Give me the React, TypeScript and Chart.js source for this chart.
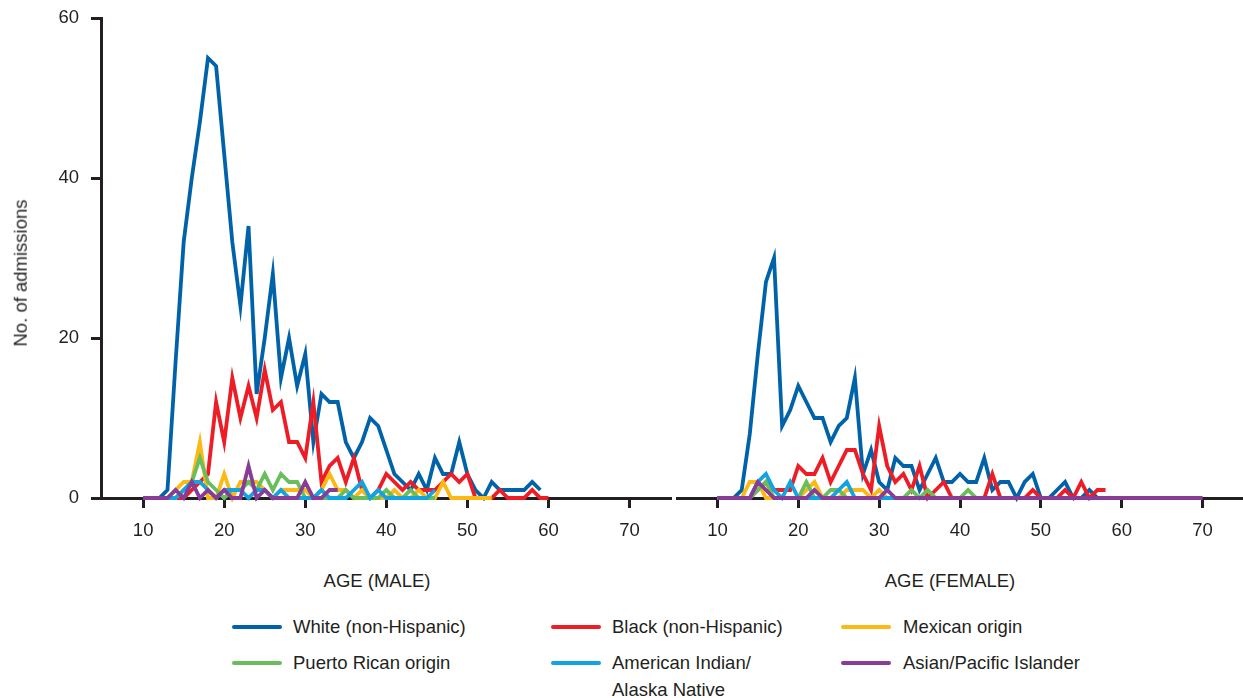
import React, { useEffect, useRef } from "react";
import { Chart, registerables } from "chart.js";

Chart.register(...registerables);

// ---------- data ----------
const START_AGE = 10;
const xTickValues = [10, 20, 30, 40, 50, 60, 70];
const yTickValues = [0, 20, 40, 60];

const seriesNames = [
  "White (non-Hispanic)",
  "Black (non-Hispanic)",
  "Mexican origin",
  "Puerto Rican origin",
  "American Indian/\nAlaska Native",
  "Asian/Pacific Islander",
];
const seriesColors = ["#0063a9", "#ee1d25", "#fdb913", "#6abd5b", "#12a3e0", "#873c95"];
const seriesOrder = [6, 5, 4, 3, 2, 1];

// Male admissions by age (from age 10, one value per year)
const maleWhite = [0, 0, 0, 1, 17, 32, 40, 47, 55, 54, 43, 32, 24, 34, 13, 20, 28, 15, 20, 14, 18, 7, 13, 12, 12, 7, 5, 7, 10, 9, 6, 3, 2, 1, 3, 1, 5, 3, 3, 7, 3, 1, 0, 2, 1, 1, 1, 1, 2, 1];
const maleBlack = [0, 0, 0, 0, 0, 0, 1, 2, 3, 12, 7, 15, 10, 14, 10, 16, 11, 12, 7, 7, 5, 12, 2, 4, 5, 2, 5, 1, 0, 1, 3, 2, 1, 2, 1, 1, 1, 2, 3, 2, 3, 0, 0, 0, 1, 0, 0, 0, 1, 0, 0];
const maleMexican = [0, 0, 0, 0, 1, 2, 2, 7, 0, 0, 3, 0, 2, 2, 2, 1, 0, 1, 1, 1, 1, 0, 1, 3, 1, 1, 0, 1, 0, 0, 0, 1, 0, 0, 1, 0, 0, 2, 0, 0, 0, 0, 0, 0];
const malePuertoRican = [0, 0, 0, 0, 0, 1, 2, 5, 2, 1, 0, 1, 1, 2, 1, 3, 1, 3, 2, 2, 0, 0, 0, 0, 0, 1, 0, 0, 0, 0, 1, 0, 0, 1, 0, 0, 0];
const maleAmIndian = [0, 0, 0, 0, 0, 1, 2, 2, 1, 0, 1, 1, 1, 0, 1, 1, 0, 1, 0, 0, 0, 0, 1, 0, 0, 0, 1, 2, 0, 1, 0, 0, 0, 0, 0, 0, 1];
const maleAsian = [0, 0, 0, 0, 1, 0, 2, 0, 1, 0, 1, 0, 0, 4, 0, 1, 0, 0, 0, 0, 2, 0, 0, 1, 1];

// Female admissions by age (from age 10, one value per year)
const femaleWhite = [0, 0, 0, 1, 8, 18, 27, 30, 9, 11, 14, 12, 10, 10, 7, 9, 10, 15, 3, 6, 2, 1, 5, 4, 4, 1, 3, 5, 2, 2, 3, 2, 2, 5, 1, 2, 2, 0, 2, 3, 0, 0, 1, 2, 0, 0, 1, 0];
const femaleBlack = [0, 0, 0, 0, 0, 1, 2, 1, 1, 1, 4, 3, 3, 5, 2, 4, 6, 6, 3, 1, 9, 4, 2, 3, 1, 4, 0, 1, 2, 0, 0, 0, 0, 0, 3, 0, 0, 0, 0, 1, 0, 0, 0, 1, 0, 2, 0, 1, 1];
const femaleMexican = [0, 0, 0, 0, 2, 2, 0, 0, 0, 0, 0, 1, 2, 0, 0, 0, 1, 1, 1, 0, 1, 0, 0, 0, 0, 0, 0, 0, 0, 0, 0, 0, 0, 0, 0, 0, 0, 0, 0, 0, 0];
const femalePuertoRican = [0, 0, 0, 0, 0, 1, 2, 0, 0, 0, 0, 2, 0, 0, 1, 1, 0, 0, 0, 0, 0, 0, 0, 0, 1, 0, 1, 0, 0, 0, 0, 1, 0, 0, 0, 0, 0, 0, 0, 0, 0];
const femaleAmIndian = [0, 0, 0, 0, 0, 2, 3, 1, 0, 2, 0, 0, 0, 0, 0, 1, 2, 0, 0, 0, 0, 0, 0, 0, 0, 0, 0, 0, 0, 0, 0, 0, 0, 0, 0, 0, 0, 0, 0, 0, 0];
const femaleAsian = [0, 0, 0, 0, 0, 2, 1, 0, 0, 0, 0, 0, 1, 0, 0, 0, 0, 0, 0, 0, 0, 1, 0, 0, 0, 0, 0, 0, 0, 0, 0, 0, 0, 0, 0, 0, 0, 0, 0, 0, 0, 0, 0, 0, 0, 0, 0, 0, 0, 0, 0, 0, 0, 0, 0, 0, 0, 0, 0, 0, 0];

const maleSeries = [maleWhite, maleBlack, maleMexican, malePuertoRican, maleAmIndian, maleAsian];
const femaleSeries = [femaleWhite, femaleBlack, femaleMexican, femalePuertoRican, femaleAmIndian, femaleAsian];

const maleTitle = "AGE (MALE)";
const femaleTitle = "AGE (FEMALE)";
const yTitle = "No. of admissions";

// ---------- styles ----------
const AXIS = "#231f20";
const TEXT = "#231f20";
const FONT_FAMILY = '"Liberation Sans", Arial, Helvetica, sans-serif';
const FONT_SIZE = 18.5;

function buildConfig(series: number[][], isLeft: boolean, xMin: number): any {
  const font = { family: FONT_FAMILY, size: FONT_SIZE };
  return {
    type: "line",
    data: {
      datasets: series.map((vals, i) => ({
        label: seriesNames[i],
        data: vals.map((v, k) => ({ x: START_AGE + k, y: v })),
        borderColor: seriesColors[i],
        backgroundColor: seriesColors[i],
        borderWidth: 3.8,
        pointRadius: 0,
        pointHoverRadius: 0,
        tension: 0,
        fill: false,
        clip: false,
        order: seriesOrder[i],
        borderJoinStyle: "miter",
      })),
    },
    options: {
      animation: false,
      responsive: false,
      maintainAspectRatio: false,
      events: [],
      layout: {
        padding: isLeft
          ? { left: 0, right: 2, top: 18, bottom: 0 }
          : { left: 5, right: 0, top: 18, bottom: 0 },
      },
      plugins: {
        legend: { display: false },
        tooltip: { enabled: false },
        title: { display: false },
      },
      scales: {
        x: {
          type: "linear",
          min: xMin,
          max: 75,
          afterBuildTicks: (s: any) => {
            s.ticks = xTickValues.map((v) => ({ value: v }));
          },
          afterFit: (s: any) => {
            s.height = 62;
            s.paddingLeft = 0;
            s.paddingRight = 0;
          },
          border: { display: true, color: AXIS, width: 3 },
          grid: {
            drawOnChartArea: false,
            drawTicks: true,
            tickLength: 10,
            color: AXIS,
            lineWidth: 3,
          },
          ticks: {
            font,
            color: TEXT,
            padding: 12,
            maxRotation: 0,
            autoSkip: false,
          },
        },
        y: {
          display: isLeft,
          min: 0,
          max: 60,
          afterBuildTicks: (s: any) => {
            s.ticks = yTickValues.map((v) => ({ value: v }));
          },
          afterFit: (s: any) => {
            if (isLeft) s.width = 101;
            s.paddingTop = 0;
            s.paddingBottom = 0;
          },
          border: { display: true, color: AXIS, width: 3 },
          grid: {
            drawOnChartArea: false,
            drawTicks: true,
            tickLength: 10,
            color: AXIS,
            lineWidth: 3,
          },
          ticks: {
            font,
            color: TEXT,
            padding: 12,
          },
        },
      },
    },
  };
}

const textStyle: React.CSSProperties = {
  position: "absolute",
  fontFamily: FONT_FAMILY,
  fontSize: FONT_SIZE,
  color: TEXT,
  whiteSpace: "pre",
  lineHeight: "26.5px",
};

const legendLayout = [
  { lineX: 232, textX: 293, capY: 627 },
  { lineX: 551, textX: 612, capY: 627 },
  { lineX: 841, textX: 903, capY: 627 },
  { lineX: 232, textX: 293, capY: 663 },
  { lineX: 551, textX: 612, capY: 663 },
  { lineX: 841, textX: 903, capY: 663 },
];
const legendSeriesIndex = [0, 1, 2, 3, 4, 5];

export default function App() {
  const leftRef = useRef<HTMLCanvasElement | null>(null);
  const rightRef = useRef<HTMLCanvasElement | null>(null);

  useEffect(() => {
    const charts: Chart[] = [];
    if (leftRef.current) charts.push(new Chart(leftRef.current, buildConfig(maleSeries, true, 4.8)));
    if (rightRef.current) charts.push(new Chart(rightRef.current, buildConfig(femaleSeries, false, 5)));
    return () => charts.forEach((c) => c.destroy());
  }, []);

  return (
    <div
      style={{
        position: "absolute",
        left: 0,
        top: 0,
        width: 1243,
        height: 698,
        overflow: "hidden",
        background: "#ffffff",
      }}
    >
      <canvas
        ref={leftRef}
        width={672}
        height={560}
        style={{ position: "absolute", left: 0, top: 0, width: 672, height: 560 }}
      />
      <canvas
        ref={rightRef}
        width={571}
        height={560}
        style={{ position: "absolute", left: 672, top: 0, width: 571, height: 560 }}
      />
      <div
        style={{
          ...textStyle,
          left: 20.5,
          top: 273,
          lineHeight: 1,
          transform: "translate(-50%, -50%) rotate(-90deg)",
        }}
      >
        {yTitle}
      </div>
      <div style={{ ...textStyle, left: 377, top: 581 - 13, transform: "translateX(-50%)" }}>{maleTitle}</div>
      <div style={{ ...textStyle, left: 950, top: 581 - 13, transform: "translateX(-50%)" }}>{femaleTitle}</div>
      {legendLayout.map((pos, k) => {
        const i = legendSeriesIndex[k];
        return (
          <React.Fragment key={k}>
            <div
              style={{
                position: "absolute",
                left: pos.lineX,
                top: pos.capY - 2,
                width: 50,
                height: 4,
                borderRadius: 2,
                background: seriesColors[i],
              }}
            />
            <div style={{ ...textStyle, left: pos.textX, top: pos.capY - 13 }}>{seriesNames[i]}</div>
          </React.Fragment>
        );
      })}
    </div>
  );
}
